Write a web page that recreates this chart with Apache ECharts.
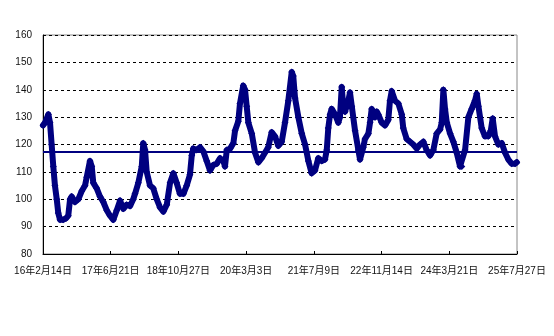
<!DOCTYPE html>
<html>
<head>
<meta charset="utf-8">
<script src="https://cdn.jsdelivr.net/npm/echarts@6/dist/echarts.min.js"></script>
<style>
  html, body { margin: 0; padding: 0; background: #fff; }
  #chart { width: 554px; height: 336px; }
</style>
</head>
<body>
<div id="chart"></div>
<script>
// days since 2016-02-14
const days = [0, 15, 39, 51, 63, 75, 87, 100, 111, 124, 146, 167, 184, 197, 209, 233, 257, 282, 306, 318,
  342, 355, 366, 391, 415, 439, 464, 488, 512, 537, 561, 585, 609, 633, 657, 670, 694, 719, 730, 743,
  755, 779, 803, 828, 852, 876, 901, 925, 949, 973, 997, 1022, 1046, 1070, 1083, 1094, 1119, 1143, 1167, 1192,
  1216, 1240, 1265, 1289, 1313, 1325, 1338, 1362, 1386, 1398, 1422, 1434, 1458, 1471, 1483, 1495, 1520, 1544, 1568, 1592,
  1616, 1640, 1665, 1689, 1713, 1738, 1762, 1786, 1811, 1822, 1835, 1859, 1884, 1908, 1932, 1956, 1980, 2004, 2029, 2053,
  2066, 2077, 2090, 2102, 2126, 2150, 2162, 2175, 2186, 2199, 2223, 2235, 2248, 2272, 2296, 2308, 2332, 2344, 2369, 2381,
  2393, 2417, 2430, 2441, 2466, 2490, 2514, 2526, 2539, 2563, 2587, 2612, 2623, 2648, 2672, 2696, 2721, 2745, 2769, 2793,
  2818, 2842, 2866, 2891, 2903, 2915, 2927, 2940, 2964, 2988, 3012, 3036, 3049, 3073, 3097, 3121, 3145, 3158, 3170, 3194,
  3218, 3242, 3260, 3274, 3291, 3315, 3340, 3364, 3388, 3412, 3437, 3449];
const values = [127, 128, 131, 128, 120, 112, 105, 100, 95, 92.5, 92.5, 93, 94, 100, 101, 99, 100, 103, 105, 108,
  114, 112, 106, 104, 101, 99, 96, 94, 92.5, 96, 99.5, 96.5, 98, 97.5, 100, 102, 106, 112, 120.5, 118,
  110, 105, 104, 100, 97, 95.5, 98, 106, 109.5, 106, 102, 102, 105, 109, 116, 118.5, 118, 119, 117.5, 114,
  110.5, 112.5, 113, 115, 114, 112, 118, 118.5, 120.5, 125, 128.5, 135, 141.5, 140, 134, 128, 124, 117, 113.5, 115,
  117, 119, 124.5, 123, 119.5, 121, 128, 136, 146.5, 145, 137, 130, 124, 120, 114, 109.5, 110.5, 115, 114, 114.5,
  118, 126, 131, 133, 131, 128, 130, 141, 134, 132, 136, 139, 134, 125, 118, 114.5, 119, 122, 124, 128,
  133, 130, 132, 131, 128, 127, 129, 136, 139.5, 136, 135, 131, 126, 122, 121, 120, 118.5, 120, 121, 118,
  116, 118, 124, 125.5, 128, 140, 133, 128, 124, 121, 117, 112, 112, 118, 130, 133, 136, 138.5, 134, 126,
  123, 123, 125, 129.5, 123, 120, 120.5, 117, 114.5, 113, 113, 113.5];
const tickLabels = ['16年2月14日', '17年6月21日', '18年10月27日', '20年3月3日',
  '21年7月9日', '22年11月14日', '24年3月21日', '25年7月27日'];
const tickStep = 493;
const meanValue = 117.5;

const navy = '#000080';
const font = 'Liberation Sans, Arial, Noto Sans CJK SC, sans-serif';

const chart = echarts.init(document.getElementById('chart'), null, { renderer: 'canvas' });
chart.setOption({
  animation: false,
  backgroundColor: '#fff',
  grid: {
    left: 43, right: 37, top: 35, bottom: 82,
    show: true, borderColor: '#888', borderWidth: 1, backgroundColor: 'transparent'
  },
  xAxis: {
    type: 'value',
    min: 0,
    max: tickStep * (tickLabels.length - 1),
    interval: tickStep,
    axisLine: { show: true, lineStyle: { color: '#000', width: 1 } },
    axisTick: { show: true, inside: true, length: 3, lineStyle: { color: '#000' } },
    splitLine: { show: false },
    axisLabel: {
      margin: 12,
      fontSize: 10,
      fontFamily: font,
      color: '#111',
      formatter: v => tickLabels[Math.round(v / tickStep)] || ''
    }
  },
  yAxis: {
    type: 'value',
    min: 80,
    max: 160,
    interval: 10,
    axisLine: { show: true, lineStyle: { color: '#000', width: 1 } },
    axisTick: { show: false },
    splitLine: { show: true, lineStyle: { color: '#000', type: [3, 3], width: 1 } },
    axisLabel: { margin: 11, fontSize: 10, fontFamily: font, color: '#111' }
  },
  series: [{
    type: 'line',
    data: days.map((d, i) => [d, values[i]]),
    showSymbol: true,
    symbol: 'diamond',
    symbolSize: 7,
    lineStyle: { color: navy, width: 6, join: 'round', cap: 'round' },
    itemStyle: { color: navy },
    markLine: {
      silent: true,
      symbol: ['none', 'none'],
      label: { show: false },
      lineStyle: { color: navy, width: 2, type: 'solid' },
      data: [{ yAxis: meanValue }]
    }
  }]
});
</script>
</body>
</html>
